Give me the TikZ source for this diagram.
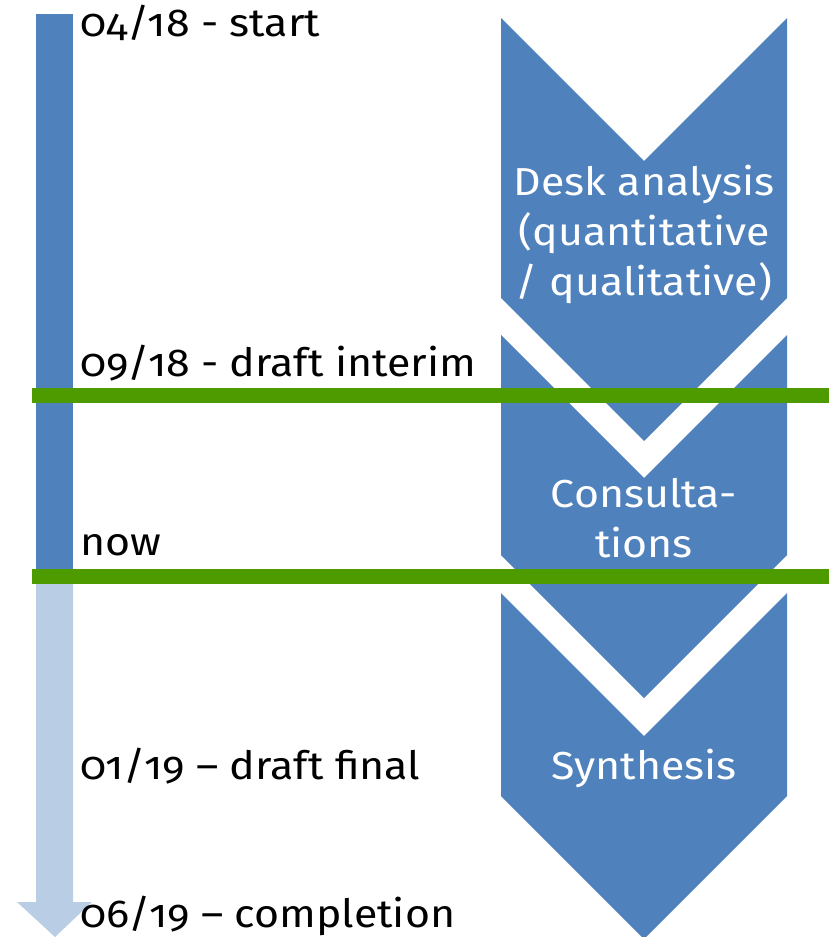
\documentclass[tikz,border=0pt]{standalone}
\usepackage{fontspec}
\setmainfont{Fira Sans}[Numbers=OldStyle, FakeStretch=1.1]
\usetikzlibrary{positioning}
\definecolor{phaseblue}{RGB}{79,129,189}
\definecolor{futureblue}{RGB}{185,205,229}
\definecolor{markgreen}{RGB}{78,155,0}
\tikzset{
    milestone/.style={anchor=base west, inner sep=0pt, font=\fontsize{39}{50}\selectfont},
    phasetext/.style={text=white, align=center, inner sep=0pt, font=\fontsize{39}{50}\selectfont},
    marker/.style={draw=markgreen, line width=15pt}
}
\begin{document}
\begin{tikzpicture}[x=1pt, y=-1pt]
\useasboundingbox (0,0) rectangle (829,937);
% Zeitleiste
\fill[phaseblue] (36,14) rectangle (73,577);
\fill[futureblue] (36,577) -- (73,577) -- (73,902) -- (92,902) -- (55,937)
    -- (17,902) -- (36,902) -- cycle;

% Phasen
\foreach \t/\s in {18/298, 335/555, 593/796}
    \fill[phaseblue] (501,\t) -- (644,{\t+143}) -- (787,\t) -- (787,\s)
        -- (644,{\s+143}) -- (501,\s) -- cycle;
\node[phasetext] (desk) at (644,234) {Desk analysis\\(quantitative\\/ qualitative)};
\node[phasetext] (cons) at (644,518) {Consulta-\\tions};
\node[phasetext, anchor=base] (synth) at (644,779) {Synthesis};

% Meilensteine
\node[milestone] (start) at (80,36) {04/18 - start};
\node[milestone] (interim) at (80,376) {09/18 - draft interim};
\node[milestone] (now) at (80,555) {now};
\node[milestone] (final) at (80,779) {01/19 – draft final};
\node[milestone] (done) at (80,927) {06/19 – completion};

\draw[marker] (32,395) -- (829,395);
\draw[marker] (32,576) -- (829,576);
\end{tikzpicture}
\end{document}
